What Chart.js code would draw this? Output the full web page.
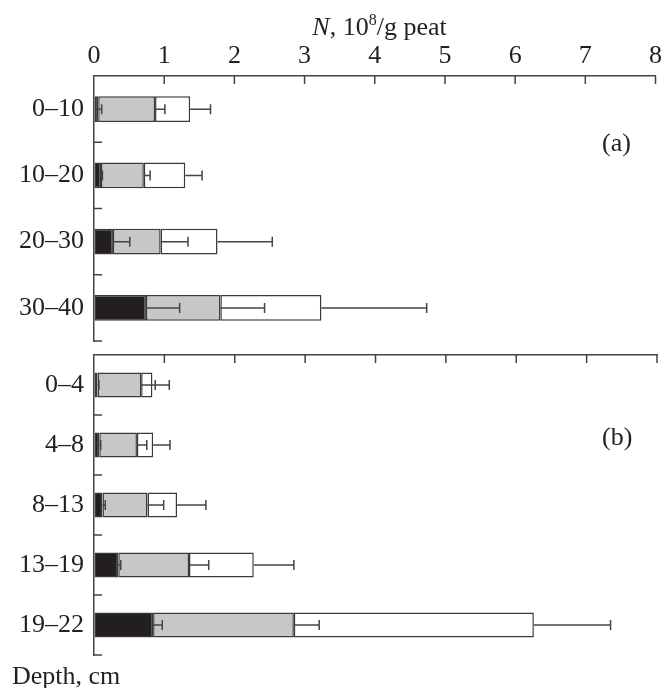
<!DOCTYPE html>
<html>
<head>
<meta charset="utf-8">
<script src="https://cdn.jsdelivr.net/npm/chart.js@4/dist/chart.umd.min.js"></script>
<style>
  body { margin: 0; background: #fff; font-family: "Liberation Serif", "DejaVu Serif", serif; color: #231f20; }
  #wrap { position: relative; width: 666px; height: 688px; }
  #chartA { position: absolute; left: 0; top: 0; }
  #chartB { position: absolute; left: 0; top: 345px; }
  .lbl { position: absolute; font-size: 26px; line-height: 26px; white-space: nowrap; }
  sup { font-size: 16px; vertical-align: 10px; line-height: 0; }
</style>
</head>
<body>
<div id="wrap">
  <canvas id="chartA" width="666" height="350"></canvas>
  <canvas id="chartB" width="666" height="343"></canvas>
  <div class="lbl" style="left:98px; width:563px; top:14px; text-align:center;"><i>N</i>, 10<sup>8</sup>/g peat</div>
  <div class="lbl" style="left:602px; top:130px;">(a)</div>
  <div class="lbl" style="left:602px; top:424px;">(b)</div>
  <div class="lbl" style="left:12px; top:663px;">Depth, cm</div>
</div>
<script>
// x axis ticks, 10^8 cells per g of peat
const xTicks = [0, 1, 2, 3, 4, 5, 6, 7, 8];

// panel (a): depth layers, cm
const depthA = ['0\u201310', '10\u201320', '20\u201330', '30\u201340'];
// cumulative ends of the three segments (black, grey, white = total)
const darkA  = [0.06, 0.10, 0.27, 0.74];
const greyA  = [0.87, 0.71, 0.95, 1.80];
const totalA = [1.37, 1.30, 1.76, 3.24];
// error bar widths
const darkErrA  = [0.05, 0.02, 0.24, 0.48];
const greyErrA  = [0.14, 0.09, 0.39, 0.63];
const totalErrA = [0.29, 0.24, 0.78, 1.50];

// panel (b)
const depthB = ['0\u20134', '4\u20138', '8\u201313', '13\u201319', '19\u201322'];
const darkB  = [0.05, 0.075, 0.12, 0.345, 0.84];
const greyB  = [0.67, 0.61, 0.76, 1.35, 2.84];
const totalB = [0.83, 0.84, 1.18, 2.27, 6.25];
const darkErrB  = [0.02, 0.02, 0.04, 0.035, 0.13];
const greyErrB  = [0.20, 0.14, 0.23, 0.28, 0.36];
const totalErrB = [0.24, 0.24, 0.41, 0.57, 1.09];

const ink = '#231f20';
const lineCol = '#444';
const fontSpec = { family: '"Liberation Serif", serif', size: 26 };

// ticks point into the plot, error bars only to the right
const marks = {
  id: 'marks',
  afterDatasetsDraw(chart, args, opts) {
    const ctx = chart.ctx, x = chart.scales.x, y = chart.scales.y, a = chart.chartArea;
    ctx.save();
    ctx.strokeStyle = lineCol;
    ctx.lineWidth = 1.5;
    ctx.beginPath();
    x.ticks.forEach(t => {
      if (t.value === 0) return;
      const px = x.getPixelForValue(t.value);
      ctx.moveTo(px, a.top);
      ctx.lineTo(px, a.top + 8);
    });
    y.ticks.forEach((t, i) => {
      const py = y.getPixelForValue(i + 0.5);
      ctx.moveTo(a.left, py);
      ctx.lineTo(a.left + 8, py);
    });
    opts.ends.forEach((ends, k) => {
      const errs = opts.errs[k];
      ends.forEach((v, i) => {
        const x0 = x.getPixelForValue(v), x1 = x.getPixelForValue(v + errs[i]);
        const yc = y.getPixelForValue(i);
        ctx.moveTo(x0, yc);
        ctx.lineTo(x1, yc);
        ctx.moveTo(x1, yc - 5);
        ctx.lineTo(x1, yc + 5);
      });
    });
    ctx.stroke();
    ctx.restore();
  }
};

function makeSets(dark, grey, total, pct) {
  return [
    { data: dark.map(v => [0, v]), backgroundColor: '#231f20' },
    { data: grey.map((v, i) => [dark[i], v]), backgroundColor: '#c6c7c9' },
    { data: total.map((v, i) => [grey[i], v]), backgroundColor: '#ffffff' }
  ].map(d => Object.assign(d, {
    borderColor: '#3a3a3a', borderWidth: 1.5, borderSkipped: false,
    grouped: false, barPercentage: pct, categoryPercentage: 1
  }));
}

function makeChart(id, labels, sets, ends, errs, topHeight, showLabels, padBottom) {
  return new Chart(document.getElementById(id), {
    type: 'bar',
    data: { labels: labels, datasets: sets },
    options: {
      indexAxis: 'y',
      responsive: false,
      animation: false,
      layout: { padding: { left: 0, right: 9, top: 0, bottom: padBottom } },
      plugins: {
        legend: { display: false },
        tooltip: { enabled: false },
        marks: { ends: ends, errs: errs }
      },
      scales: {
        x: {
          type: 'linear', position: 'top', min: 0, max: 8,
          afterBuildTicks: s => { s.ticks = xTicks.map(v => ({ value: v })); },
          afterFit: s => { s.height = topHeight; },
          grid: { drawOnChartArea: false, drawTicks: false },
          border: { display: true, color: lineCol, width: 1.5 },
          ticks: { display: showLabels, padding: 4, color: ink, font: fontSpec }
        },
        y: {
          afterFit: s => { s.width = 94; s.paddingTop = 0; s.paddingBottom = 0; },
          grid: { drawOnChartArea: false, drawTicks: false },
          border: { display: true, color: lineCol, width: 1.5 },
          ticks: { padding: 10, color: ink, font: fontSpec }
        }
      }
    },
    plugins: [marks]
  });
}

makeChart('chartA', depthA, makeSets(darkA, greyA, totalA, 0.39),
  [darkA, greyA, totalA], [darkErrA, greyErrA, totalErrA], 76, true, 9);
makeChart('chartB', depthB, makeSets(darkB, greyB, totalB, 0.42),
  [darkB, greyB, totalB], [darkErrB, greyErrB, totalErrB], 10, false, 33);
</script>
</body>
</html>
